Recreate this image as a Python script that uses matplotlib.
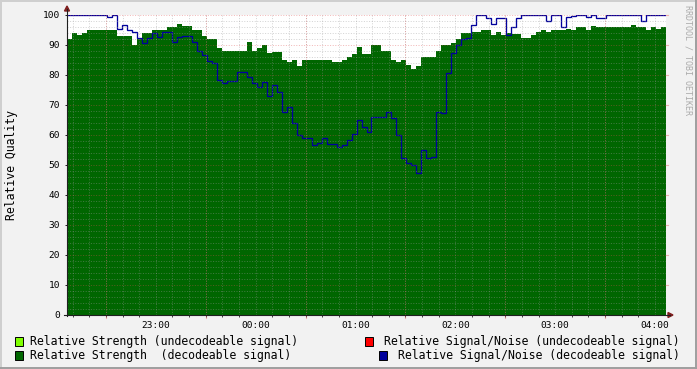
import matplotlib
matplotlib.use("Agg")
import matplotlib.pyplot as plt
import matplotlib.dates as mdates
from matplotlib.patches import Rectangle, Polygon
from matplotlib.lines import Line2D
import numpy as np
import pandas as pd

# sampled every 3 minutes, starting 22:06:36
START = "2012-03-10 22:06:36"
STEP = "3min"

strength = [92, 94, 93.5, 94, 95, 95, 95, 95, 95, 95,
            93, 93, 93, 90, 92, 94, 94, 95, 95, 95,
            96, 96, 97, 96.5, 96.5, 95, 95, 93, 92, 92,
            89, 88, 88, 88, 88, 88, 91, 88, 89, 90,
            87.3, 87.7, 87.7, 85, 84.3, 85, 83, 85, 85, 85,
            85, 85, 85, 84.5, 84.5, 85, 86, 87, 89.5, 87,
            87, 90, 90, 88, 88, 85, 84.3, 85, 83.5, 82,
            83, 86, 86, 86, 88, 90, 90, 90.7, 92, 94,
            94, 94.4, 94.4, 95, 95, 93.3, 94.4, 93.3, 94, 93.7,
            93.7, 92.2, 92.2, 93.3, 94.4, 95, 94.4, 95, 95, 95,
            95.5, 95, 96, 96, 95, 96.5, 96, 96, 96, 96,
            96, 96, 96, 96.7, 96, 96, 95, 96, 95.3, 96]

snr = [100, 100, 100, 100, 100, 100, 100, 100, 99.4, 100,
       95.5, 96.7, 95, 94.4, 92.2, 90.6, 92.2, 94, 92.8, 94.2,
       94.2, 91.1, 92.8, 93, 93.1, 91.1, 88.1, 86.7, 84.8, 83.9,
       78.3, 77.2, 78, 78, 81.1, 80.9, 79.4, 77.2, 75.9, 77.8,
       73, 76.7, 74.4, 67.8, 69.3, 63.9, 60, 58.9, 58.9, 56.7,
       57.2, 58.9, 57, 57, 56, 56.7, 58.3, 60.5, 65, 62.8,
       61.1, 65.9, 65.9, 65.9, 67.8, 65.6, 60, 52.2, 50.6, 50,
       47.2, 55, 52.2, 52.8, 67.8, 67.2, 80.6, 87.4, 90, 92,
       92.2, 96.7, 100, 100, 98.9, 97, 98.9, 99, 93.3, 96.1,
       98.9, 100, 100, 100, 100, 100, 98, 100, 100, 96.1,
       99.2, 99.7, 100, 100, 99.5, 100, 99.1, 99.1, 100, 100,
       100, 100, 100, 100, 100, 98, 100, 100, 100, 100]

hour_labels = ["23:00", "00:00", "01:00", "02:00", "03:00", "04:00"]

legend_left = ["Relative Strength (undecodeable signal)",
               "Relative Strength  (decodeable signal)"]
legend_right = ["Relative Signal/Noise (undecodeable signal)",
                "Relative Signal/Noise (decodeable signal)"]

C_UNDEC_STR = "#80FF00"
C_UNDEC_SNR = "#FF0000"
C_STR = "#006600"
C_SNR = "#00009C"

W, H = 697, 369
MONO = "DejaVu Sans Mono"
plt.rcParams["font.family"] = MONO

edges_dt = pd.date_range(START, periods=len(strength) + 1, freq=STEP)
edges = mdates.date2num(edges_dt)

fig = plt.figure(figsize=(W / 100, H / 100), dpi=100)
fig.patch.set_facecolor("#F2F2F2")


def fx(x):
    return x / W


def fy(y):
    return 1 - y / H


ax = fig.add_axes([fx(67), fy(315), (666 - 67) / W, 300 / H])
ax.set_facecolor("white")

ax.stairs(strength, edges, fill=True, color=C_STR, baseline=0, zorder=1)
ax.stairs(snr, edges, baseline=None, color=C_SNR, linewidth=0.95, zorder=2)

ax.set_xlim(edges[0], edges[-1])
ax.set_ylim(0, 100)

# grid, drawn above the data like rrdtool does
day0 = pd.Timestamp(START).normalize()
minor_t = pd.date_range(day0 + pd.Timedelta("22h10min"), day0 + pd.Timedelta("28h"), freq="10min")
major_t = pd.date_range(day0 + pd.Timedelta("22h30min"), day0 + pd.Timedelta("27h30min"), freq="60min")
grid_kw = dict(linewidth=0.72, linestyle=(0, (1, 1.6)), zorder=3)
minor_col = (0.6, 0.6, 0.6, 0.42)
major_col = (0.87, 0.31, 0.31, 0.4)
for t in mdates.date2num(minor_t):
    ax.axvline(t, color=minor_col, **grid_kw)
for v in np.arange(2, 100, 2):
    if v % 10:
        ax.axhline(v, color=minor_col, **grid_kw)
for t in mdates.date2num(major_t):
    ax.axvline(t, color=major_col, **grid_kw)
    ax.plot([t, t], [-1.0, 0], color=major_col, lw=0.8, clip_on=False, zorder=3)
for v in range(10, 101, 10):
    ax.axhline(v, color=major_col, **grid_kw)
    ax.plot([edges[-1], edges[-1] + 0.0008], [v, v], color=major_col, lw=0.8,
            clip_on=False, zorder=3)

for s in ax.spines.values():
    s.set_visible(False)

hour_t = pd.date_range(day0 + pd.Timedelta("23h"), periods=len(hour_labels), freq="60min")
ax.set_xticks(mdates.date2num(hour_t))
ax.set_xticklabels(hour_labels)
ax.set_xticks(mdates.date2num(minor_t), minor=True)
ax.tick_params(axis="x", which="major", length=0, pad=4, labelsize=6.8)
ax.tick_params(axis="x", which="minor", length=1.5, color=(0.12, 0.12, 0.12), width=0.6)
ax.set_yticks(np.arange(0, 101, 10))
ax.tick_params(axis="y", which="major", length=1.8, pad=3.2, width=0.7,
               color=(0.12, 0.12, 0.12), labelsize=6.8)

# axes with arrows
axis_col = (0.12, 0.12, 0.12)
arrow_col = (0.5, 0.12, 0.12)
fig.add_artist(Line2D([fx(67), fx(67)], [fy(316), fy(9)], color=axis_col, lw=0.8))
fig.add_artist(Line2D([fx(64), fx(670)], [fy(315), fy(315)], color=axis_col, lw=0.8))
fig.add_artist(Polygon([[fx(64.5), fy(11)], [fx(69.5), fy(11)], [fx(67), fy(6)]],
                       closed=True, color=arrow_col))
fig.add_artist(Polygon([[fx(668), fy(312.5)], [fx(668), fy(317.5)], [fx(673), fy(315)]],
                       closed=True, color=arrow_col))

fig.text(fx(12), fy(165), "Relative Quality", rotation=90, ha="center", va="center",
         fontsize=8.3)
fig.text(fx(688), fy(5), "RRDTOOL / TOBI OETIKER", rotation=270, ha="center", va="top",
         fontsize=6, color="#ABABAB")

# legend
def legend_box(x, y, color):
    fig.add_artist(Rectangle((fx(x), fy(y + 9)), 8 / W, 9 / H, facecolor=color,
                             edgecolor="black", linewidth=0.7, transform=fig.transFigure))

legend_box(15, 337, C_UNDEC_STR)
legend_box(15, 350.5, C_STR)
legend_box(365, 337, C_UNDEC_SNR)
legend_box(379, 350.5, C_SNR)
fig.text(fx(30), fy(341.5), legend_left[0], ha="left", va="center", fontsize=8.3)
fig.text(fx(30), fy(355), legend_left[1], ha="left", va="center", fontsize=8.3)
fig.text(fx(680), fy(341.5), legend_right[0], ha="right", va="center", fontsize=8.3)
fig.text(fx(680), fy(355), legend_right[1], ha="right", va="center", fontsize=8.3)

# 3d frame
fig.add_artist(Line2D([0, 1], [fy(0.5), fy(0.5)], color="#CFCFCF", lw=1.4))
fig.add_artist(Line2D([fx(0.5), fx(0.5)], [0, 1], color="#CFCFCF", lw=1.4))
fig.add_artist(Line2D([0, 1], [fy(368), fy(368)], color="#9E9E9E", lw=1.4))
fig.add_artist(Line2D([fx(696), fx(696)], [0, 1], color="#9E9E9E", lw=1.4))

fig.savefig("out.png", dpi=100, facecolor=fig.get_facecolor())
